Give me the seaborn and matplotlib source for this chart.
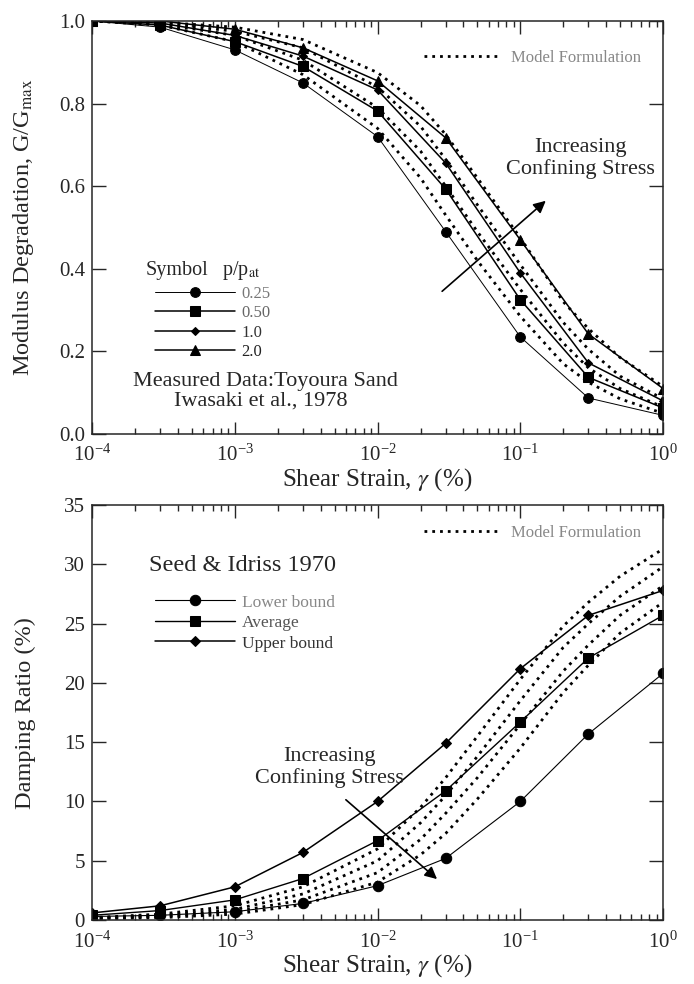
import numpy as np
import matplotlib
matplotlib.use("Agg")
import matplotlib.pyplot as plt
import seaborn as sns

sns.set_style("ticks")
plt.rcParams['font.family'] = ['Liberation Serif', 'DejaVu Serif']
plt.rcParams['mathtext.fontset'] = 'stix'

# measured strains (%) and model strains
strain = [1e-4, 3e-4, 1e-3, 3e-3, 1e-2, 3e-2, 1e-1, 3e-1, 1.0]
strain_model = [1e-4, 3e-4, 1e-3, 3e-3, 1e-2, 2e-2, 3e-2, 5e-2, 1e-1, 2e-1, 3e-1, 5e-1, 1.0]

# --- G/Gmax, Toyoura sand (Iwasaki et al. 1978)
pressure_labels = ['0.25', '0.50', '1.0', '2.0']
g_025 = [1.0, 0.985, 0.93, 0.85, 0.72, 0.49, 0.235, 0.087, 0.045]
g_050 = [1.0, 0.99, 0.95, 0.89, 0.782, 0.593, 0.325, 0.137, 0.063]
g_100 = [1.0, 0.995, 0.965, 0.915, 0.833, 0.656, 0.39, 0.172, 0.08]
g_200 = [1.0, 1.0, 0.98, 0.935, 0.855, 0.717, 0.47, 0.242, 0.11]

gm_025 = [1.0, 0.99, 0.95, 0.87, 0.74, 0.62, 0.53, 0.42, 0.285, 0.17, 0.125, 0.085, 0.05]
gm_050 = [1.0, 0.993, 0.965, 0.905, 0.79, 0.685, 0.60, 0.49, 0.35, 0.22, 0.16, 0.11, 0.065]
gm_100 = [1.0, 0.995, 0.975, 0.935, 0.84, 0.745, 0.665, 0.555, 0.41, 0.27, 0.205, 0.14, 0.085]
gm_200 = [1.0, 0.997, 0.985, 0.955, 0.875, 0.795, 0.725, 0.62, 0.475, 0.32, 0.255, 0.185, 0.115]

# --- Damping, Seed & Idriss 1970
damping_labels = ['Lower bound', 'Average', 'Upper bound']
d_lower = [0.3, 0.4, 0.7, 1.4, 2.9, 5.2, 10.0, 15.7, 20.8]
d_avg = [0.4, 0.8, 1.7, 3.5, 6.7, 10.9, 16.7, 22.1, 25.7]
d_upper = [0.6, 1.2, 2.8, 5.7, 10.0, 14.9, 21.2, 25.7, 27.8]

dm_1 = [0.2, 0.5, 1.2, 2.8, 6.0, 9.5, 12.0, 15.5, 20.3, 24.8, 26.8, 29.0, 31.3]
dm_2 = [0.15, 0.4, 0.9, 2.2, 5.0, 8.2, 10.5, 13.8, 18.5, 23.0, 25.0, 27.3, 29.8]
dm_3 = [0.12, 0.3, 0.7, 1.7, 4.0, 6.8, 9.0, 12.0, 16.5, 21.0, 23.2, 25.7, 28.2]
dm_4 = [0.1, 0.2, 0.5, 1.3, 3.2, 5.5, 7.3, 10.2, 14.5, 19.2, 21.5, 24.2, 26.8]

fig = plt.figure(figsize=(6.94, 9.84), dpi=100)
ax1 = fig.add_axes([0.1326, 0.559, 0.8228, 0.4197])
ax2 = fig.add_axes([0.1326, 0.065, 0.8228, 0.4217])

dot = (0, (1.0, 1.8))

# top panel
meas_style = [('o', 7, 0.7), ('s', 7, 1.1), ('D', 4.5, 1.1), ('^', 7, 1.1)]
g_sets = [g_025, g_050, g_100, g_200]
h_top = []
for vals, (m, ms, lw) in zip(g_sets, meas_style):
    sns.lineplot(x=strain, y=vals, ax=ax1, color='black', marker=m, markersize=ms,
                 markeredgecolor='black', linewidth=lw)
    h_top.append(ax1.lines[-1])
for vals in [gm_025, gm_050, gm_100, gm_200]:
    sns.lineplot(x=strain_model, y=vals, ax=ax1, color='black', linestyle=dot, linewidth=2.0)
model_top = ax1.lines[-1]

# bottom panel
d_sets = [d_lower, d_avg, d_upper]
d_style = [('o', 7.5, 0.8), ('s', 7.5, 1.0), ('D', 5, 1.1)]
h_bot = []
for vals, (m, ms, lw) in zip(d_sets, d_style):
    sns.lineplot(x=strain, y=vals, ax=ax2, color='black', marker=m, markersize=ms,
                 markeredgecolor='black', linewidth=lw)
    h_bot.append(ax2.lines[-1])
for vals in [dm_1, dm_2, dm_3, dm_4]:
    sns.lineplot(x=strain_model, y=vals, ax=ax2, color='black', linestyle=dot, linewidth=2.0)
model_bot = ax2.lines[-1]

for ax in (ax1, ax2):
    ax.set_xscale('log')
    ax.set_xlim(1e-4, 1)
    ax.tick_params(which='both', direction='in', top=True, right=True, labelsize=15,
                   width=1.0)
    ax.tick_params(axis='x', which='major', length=9, pad=8)
    ax.tick_params(axis='x', which='minor', length=4)
    ax.tick_params(axis='y', which='major', length=10, pad=5)
    for s in ax.spines.values():
        s.set_linewidth(1.1)
    ax.set_xlabel('Shear Strain, $\\gamma$ (%)', fontsize=18, labelpad=0)

ax1.set_ylim(0, 1.0)
ax1.set_yticks([0, 0.2, 0.4, 0.6, 0.8, 1.0])
ax1.set_yticklabels(['0.0', '0.2', '0.4', '0.6', '0.8', '1.0'])
ax1.set_ylabel('Modulus Degradation, G/G$_{\\rm max}$', fontsize=17.5)
ax1.yaxis.set_label_coords(-0.098, 0.5)

ax2.set_ylim(0, 35)
ax2.set_yticks([0, 5, 10, 15, 20, 25, 30, 35])
ax2.set_ylabel('Damping Ratio (%)', fontsize=17.5)
ax2.yaxis.set_label_coords(-0.098, 0.5)

# legends
ax1.text(0.093, 0.395, 'Symbol', transform=ax1.transAxes, ha='left', va='center',
         fontsize=14.5)
ax1.text(0.228, 0.395, 'p/p$_{\\rm at}$', transform=ax1.transAxes, ha='left',
         va='center', fontsize=14.5)
leg1 = ax1.legend(h_top, pressure_labels, loc='center left', bbox_to_anchor=(0.11, 0.269),
                  frameon=False, handlelength=4.8, handletextpad=0.4, labelspacing=0.2,
                  fontsize=12, borderpad=0, borderaxespad=0)
for t, c in zip(leg1.get_texts(), ['#777777', '#666666', '#333333', '#222222']):
    t.set_color(c)
ax1.add_artist(leg1)
leg1b = ax1.legend([model_top], ['Model Formulation'], loc='center left',
                   bbox_to_anchor=(0.555, 0.91), frameon=False, handlelength=4.6,
                   handletextpad=0.6, fontsize=12)
leg1b.get_texts()[0].set_color('#888888')

ax1.text(0.303, 0.128, 'Measured Data:Toyoura Sand', transform=ax1.transAxes,
         ha='center', va='center', fontsize=16)
ax1.text(0.295, 0.08, 'Iwasaki et al., 1978', transform=ax1.transAxes,
         ha='center', va='center', fontsize=16)
ax1.annotate('', xy=(0.156, 0.569), xytext=(0.0274, 0.341),
             arrowprops=dict(arrowstyle='-|>', color='black', lw=1.2, mutation_scale=18))
ax1.text(0.262, 0.667, 'Increasing\nConfining Stress', ha='center', va='center',
         fontsize=16, linespacing=1.15)

ax2.text(0.263, 0.855, 'Seed & Idriss 1970', transform=ax2.transAxes, ha='center',
         va='center', fontsize=17.5)
leg2 = ax2.legend(h_bot, damping_labels, loc='center left', bbox_to_anchor=(0.11, 0.716),
                  frameon=False, handlelength=4.6, handletextpad=0.4, labelspacing=0.25,
                  fontsize=12.5, borderpad=0, borderaxespad=0)
for t, c in zip(leg2.get_texts(), ['#888888', '#555555', '#333333']):
    t.set_color(c)
ax2.add_artist(leg2)
leg2b = ax2.legend([model_bot], ['Model Formulation'], loc='center left',
                   bbox_to_anchor=(0.555, 0.933), frameon=False, handlelength=4.6,
                   handletextpad=0.6, fontsize=12)
leg2b.get_texts()[0].set_color('#888888')

ax2.annotate('', xy=(0.027, 3.3), xytext=(0.0058, 10.3),
             arrowprops=dict(arrowstyle='-|>', color='black', lw=1.2, mutation_scale=18))
ax2.text(0.0046, 12.9, 'Increasing\nConfining Stress', ha='center', va='center',
         fontsize=16, linespacing=1.15)

fig.savefig('out.png', dpi=100)
